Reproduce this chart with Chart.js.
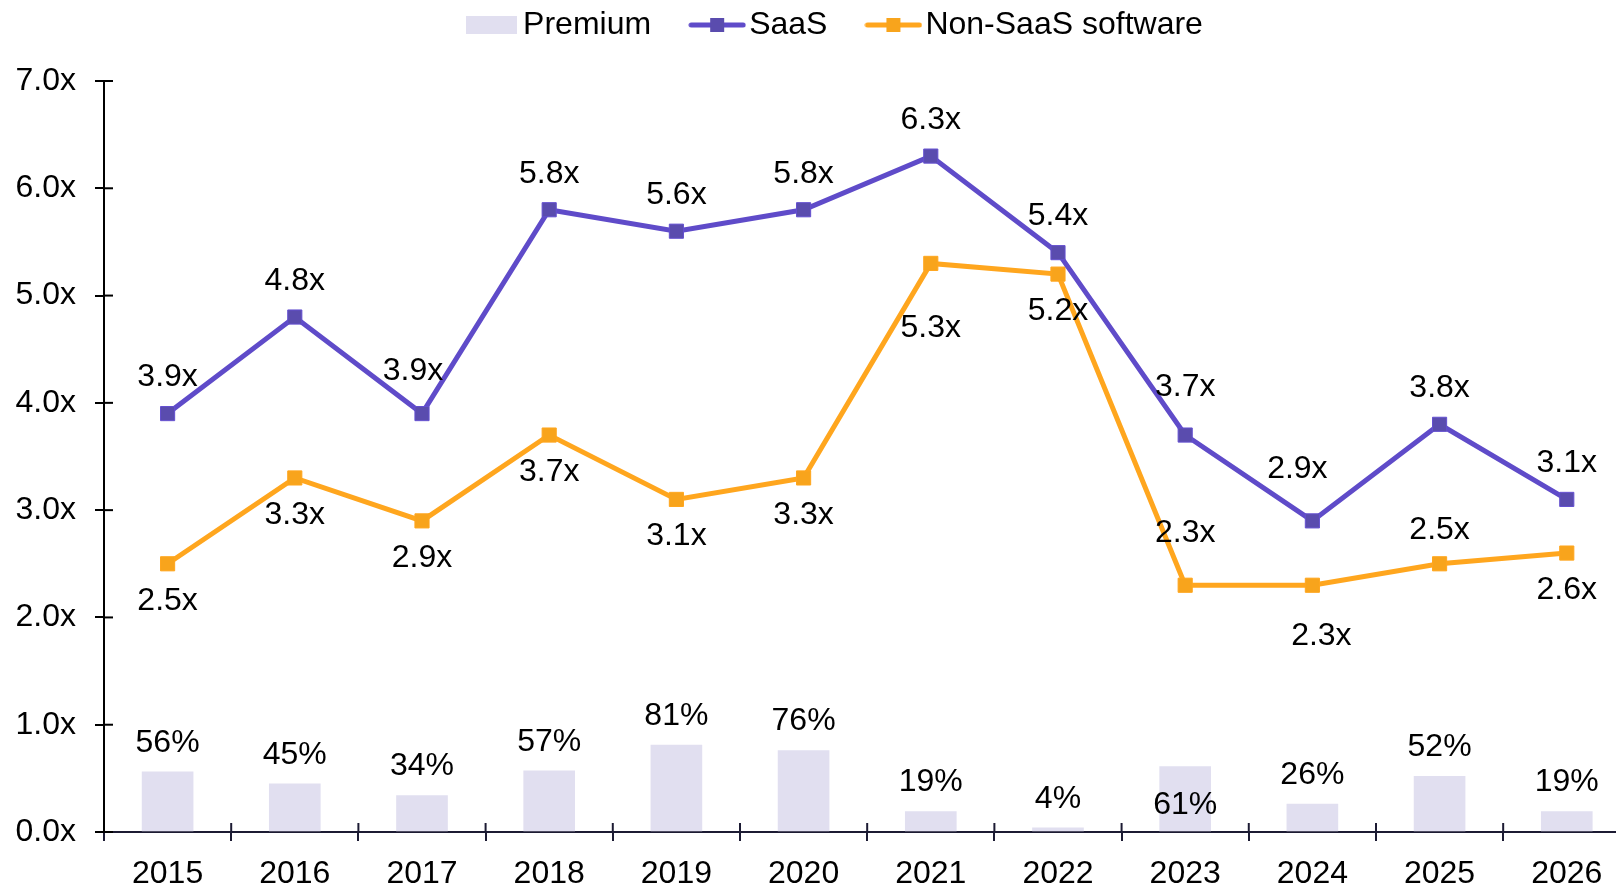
<!DOCTYPE html>
<html>
<head>
<meta charset="utf-8">
<script src="https://cdn.jsdelivr.net/npm/chart.js@4"></script>
<style>
  html, body { margin: 0; padding: 0; background: #fff; overflow: hidden; }
  canvas { display: block; }
</style>
</head>
<body>
<canvas id="myChart" width="1616" height="884"></canvas>
<script>
// ------------------------------------------------------------
// Data
// ------------------------------------------------------------
const years = ['2015', '2016', '2017', '2018', '2019', '2020', '2021', '2022', '2023', '2024', '2025', '2026']
const premium = [56, 45, 34, 57, 81, 76, 19, 4, 61, 26, 52, 19]        // %
const saas = [3.9, 4.8, 3.9, 5.8, 5.6, 5.8, 6.3, 5.4, 3.7, 2.9, 3.8, 3.1]
const nonSaas = [2.5, 3.3, 2.9, 3.7, 3.1, 3.3, 5.3, 5.2, 2.3, 2.3, 2.5, 2.6]
const yTicks = [0, 1, 2, 3, 4, 5, 6, 7]

// label placement (px offsets from the point)
const saasLabelDy = [-36, -36, -42, -36, -36, -36, -36, -36, -48, -52, -36, -36]
const saasLabelDx = [0, 0, -9, 0, 0, 0, 0, 0, 0, -15, 0, 0]
const nonSaasLabelDy = [37, 37, 37, 37, 37, 37, 65, 37, -52, 51, -34, 37]
const nonSaasLabelDx = [0, 0, 0, 0, 0, 0, 0, 0, 0, 9, 0, 0]
const premiumLabelAt = ['top', 'top', 'top', 'top', 'top', 'top', 'top', 'top', 'base', 'top', 'top', 'top']

// the original plot runs a little past the right edge of the picture
const xMin = -0.5
const xMax = 11.387

const FONT = "'Liberation Sans', Arial, sans-serif"
const FS = 32
const purple = '#5f4bc9'
const purpleMark = '#5a4cae'
const orange = '#ffa61e'
const orangeMark = '#f8a41c'
const lavender = '#e1dff0'

// ------------------------------------------------------------
// Legend symbols
// ------------------------------------------------------------
function boxSymbol(color) {
    const c = document.createElement('canvas')
    c.width = 51; c.height = 18
    const g = c.getContext('2d')
    g.fillStyle = color
    g.fillRect(0, 0, 51, 18)
    return c
}
function lineSymbol(lineColor, markColor) {
    const c = document.createElement('canvas')
    c.width = 58; c.height = 16
    const g = c.getContext('2d')
    g.strokeStyle = lineColor
    g.lineWidth = 5
    g.lineCap = 'round'
    g.beginPath(); g.moveTo(3, 8); g.lineTo(55, 8); g.stroke()
    g.fillStyle = markColor
    g.fillRect(22, 1, 14, 14)
    return c
}
const legendSymbols = [boxSymbol(lavender), lineSymbol(purple, purpleMark), lineSymbol(orange, orangeMark)]

// ------------------------------------------------------------
// Plugins
// ------------------------------------------------------------
const legendShift = {
    id: 'legendShift',
    afterLayout(chart) {
        chart.legend.left += 31
        chart.legend.right += 31
        chart.legend.top -= 41
    }
}

const innerTicks = {
    id: 'innerTicks',
    afterDatasetsDraw(chart) {
        const { ctx, scales: { x, y } } = chart
        ctx.save()
        ctx.lineWidth = 2
        ctx.strokeStyle = '#1c1b33'
        for (let i = 1; i < years.length; i++) {
            const bx = x.getPixelForValue(i - 0.5)
            ctx.beginPath(); ctx.moveTo(bx, y.bottom); ctx.lineTo(bx, y.bottom - 9); ctx.stroke()
        }
        ctx.strokeStyle = '#000'
        yTicks.forEach(v => {
            const py = y.getPixelForValue(v)
            ctx.beginPath(); ctx.moveTo(x.left, py); ctx.lineTo(x.left + 9, py); ctx.stroke()
        })
        ctx.restore()
    }
}

const valueLabels = {
    id: 'valueLabels',
    afterDatasetsDraw(chart) {
        const ctx = chart.ctx
        ctx.save()
        ctx.font = FS + 'px ' + FONT
        ctx.fillStyle = '#000'
        ctx.textAlign = 'center'
        ctx.textBaseline = 'middle'
        // premium bars
        chart.getDatasetMeta(0).data.forEach((el, i) => {
            const yy = premiumLabelAt[i] === 'base' ? el.base - 26 : el.y - 29
            ctx.fillText(premium[i] + '%', el.x, yy)
        })
        chart.getDatasetMeta(1).data.forEach((el, i) => {
            ctx.fillText(saas[i].toFixed(1) + 'x', el.x + saasLabelDx[i], el.y + saasLabelDy[i])
        })
        chart.getDatasetMeta(2).data.forEach((el, i) => {
            ctx.fillText(nonSaas[i].toFixed(1) + 'x', el.x + nonSaasLabelDx[i], el.y + nonSaasLabelDy[i])
        })
        ctx.restore()
    }
}

// ------------------------------------------------------------
// Chart
// ------------------------------------------------------------
Chart.defaults.font.family = FONT
Chart.defaults.font.size = FS
Chart.defaults.color = '#000'

const toXY = (arr) => arr.map((v, i) => ({ x: i, y: v }))

const data = {
    datasets: [
        {
            type: 'bar',
            label: 'Premium',
            data: toXY(premium.map(v => v / 100)),
            backgroundColor: lavender,
            barThickness: 51,
            order: 3,
        },
        {
            type: 'line',
            label: 'SaaS',
            data: toXY(saas),
            borderColor: purple,
            borderWidth: 5,
            pointStyle: 'rect',
            pointRadius: 10,
            pointBackgroundColor: purpleMark,
            pointBorderColor: '#6450d0',
            pointBorderWidth: 1,
            tension: 0,
            order: 1,
        },
        {
            type: 'line',
            label: 'Non-SaaS software',
            data: toXY(nonSaas),
            borderColor: orange,
            borderWidth: 5,
            pointStyle: 'rect',
            pointRadius: 10,
            pointBackgroundColor: orangeMark,
            pointBorderColor: orange,
            pointBorderWidth: 1,
            tension: 0,
            order: 2,
        }
    ]
}

const config = {
    type: 'bar',
    data: data,
    options: {
        responsive: false,
        animation: false,
        layout: { padding: 0, autoPadding: false },
        plugins: {
            tooltip: { enabled: false },
            legend: {
                position: 'top',
                maxHeight: 81,
                labels: {
                    usePointStyle: true,
                    padding: 50,
                    color: '#000',
                    font: { size: FS },
                    generateLabels: (chart) => chart.data.datasets.map((ds, i) => ({
                        text: ds.label,
                        pointStyle: legendSymbols[i],
                        fillStyle: 'transparent',
                        strokeStyle: 'transparent',
                        lineWidth: 0,
                        hidden: false,
                        datasetIndex: i,
                    }))
                }
            }
        },
        scales: {
            x: {
                type: 'linear',
                min: xMin,
                max: xMax,
                offset: false,
                afterBuildTicks: (scale) => { scale.ticks = years.map((_, i) => ({ value: i })) },
                grid: { offset: true, drawOnChartArea: false, tickLength: 9, color: '#1c1b33', lineWidth: 2 },
                border: { color: '#1c1b33', width: 2 },
                ticks: {
                    padding: 14,
                    color: '#000',
                    font: { size: FS },
                    maxRotation: 0,
                    autoSkip: false,
                    callback: (v) => years[v]
                },
                afterFit: (scale) => {
                    scale.height = 52
                    scale.paddingLeft = 0
                    scale.paddingRight = 0
                }
            },
            y: {
                min: 0,
                max: 7,
                afterBuildTicks: (scale) => { scale.ticks = yTicks.map(v => ({ value: v })) },
                grid: { drawOnChartArea: false, tickLength: 9, color: '#000', lineWidth: 2 },
                border: { color: '#000', width: 2 },
                ticks: {
                    padding: 19,
                    color: '#000',
                    font: { size: FS },
                    callback: (v) => Number(v).toFixed(1) + 'x'
                },
                afterFit: (scale) => { scale.width = 104 }
            }
        }
    },
    plugins: [legendShift, innerTicks, valueLabels]
}

const myChart = new Chart(document.getElementById('myChart'), config)
</script>
</body>
</html>
